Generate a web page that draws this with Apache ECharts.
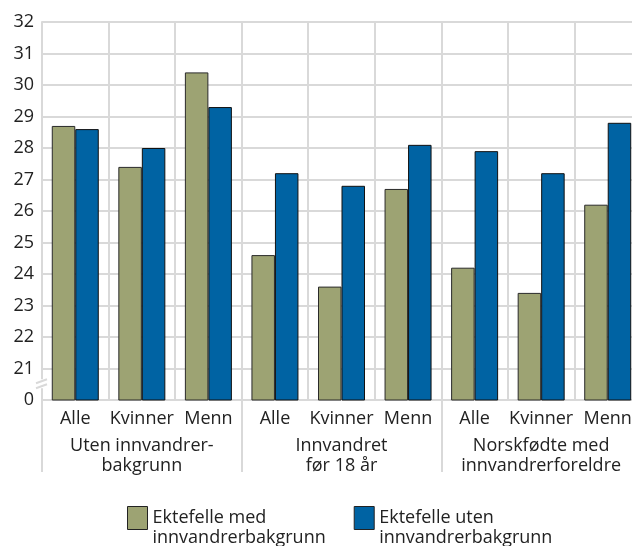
<!DOCTYPE html>
<html>
<head>
<meta charset="utf-8">
<script src="https://cdn.jsdelivr.net/npm/echarts@6/dist/echarts.min.js"></script>
<style>
  html, body { margin: 0; padding: 0; background: #fff; }
  #chart { width: 632px; height: 546px; }
</style>
</head>
<body>
<div id="chart"></div>
<script>
// data
const categories = ["Alle", "Kvinner", "Menn", "Alle", "Kvinner", "Menn", "Alle", "Kvinner", "Menn"];
const groups = ["Uten innvandrer-\nbakgrunn", "Innvandret\nfør 18 år", "Norskfødte med\ninnvandrerforeldre"];
const medBakgrunn = [28.7, 27.4, 30.4, 24.6, 23.6, 26.7, 24.2, 23.4, 26.2];
const utenBakgrunn = [28.6, 28.0, 29.3, 27.2, 26.8, 28.1, 27.9, 27.2, 28.8];
const seriesNames = ["Ektefelle med\ninnvandrerbakgrunn", "Ektefelle uten\ninnvandrerbakgrunn"];

const FONT = "Open Sans";
const FS = 18;
const GRID = "#d9d9d9";
const TXT = "#222";

const chart = echarts.init(document.getElementById("chart"));
const option = {
  animation: false,
  textStyle: { fontFamily: FONT },
  grid: { left: 42, width: 599, top: 22, height: 378, outerBoundsMode: "none" },
  legend: {
    left: 127,
    top: 488,
    padding: 0,
    itemWidth: 20,
    itemHeight: 23,
    itemGap: 28,
    itemTextGap: 5,
    icon: "rect",
    itemStyle: { borderColor: "#222", borderWidth: 1 },
    // leading empty line keeps the first text line level with the swatch
    formatter: name => "\n" + name,
    textStyle: { fontFamily: FONT, fontSize: FS, color: TXT, lineHeight: 20 },
    data: seriesNames
  },
  xAxis: [
    {
      type: "category",
      data: categories,
      axisLine: { lineStyle: { color: GRID, width: 2 } },
      axisTick: { show: false },
      splitLine: { show: true, interval: 0, lineStyle: { color: GRID, width: 2 } },
      axisLabel: { interval: 0, margin: 10, fontSize: FS, color: TXT, fontFamily: FONT }
    },
    {
      type: "category",
      position: "bottom",
      data: groups,
      axisLine: { show: false },
      axisTick: { show: true, interval: 0, length: 72, lineStyle: { color: GRID, width: 2 } },
      axisLabel: { interval: 0, margin: 36, fontSize: FS, lineHeight: 20, color: TXT, fontFamily: FONT }
    }
  ],
  yAxis: {
    type: "value",
    min: 20,
    max: 32,
    interval: 1,
    axisLine: { show: true, lineStyle: { color: GRID, width: 2 } },
    axisTick: { show: false },
    splitLine: { lineStyle: { color: GRID, width: 2 } },
    axisLabel: {
      fontSize: FS, color: TXT, fontFamily: FONT, margin: 8,
      formatter: v => (v === 20 ? "0" : String(v))
    }
  },
  series: [
    {
      name: seriesNames[0],
      type: "bar",
      data: medBakgrunn,
      barWidth: 23.5,
      barGap: "0%",
      itemStyle: { color: "#9da373", borderColor: "#2a2a2a", borderWidth: 1 }
    },
    {
      name: seriesNames[1],
      type: "bar",
      data: utenBakgrunn,
      barWidth: 23.5,
      barGap: "0%",
      itemStyle: { color: "#0063a3", borderColor: "#111", borderWidth: 1 }
    }
  ]
};
chart.setOption(option);

// axis break mark between 0 and 21
const p = chart.convertToPixel({ yAxisIndex: 0 }, 20.5);
const x0 = 42;
chart.setOption({
  graphic: [
    { type: "rect", shape: { x: x0 - 6, y: p - 5, width: 12, height: 9 }, style: { fill: "#fff" }, z: 100 },
    { type: "line", shape: { x1: x0 - 6, y1: p - 1, x2: x0 + 5, y2: p - 5 }, style: { stroke: GRID, lineWidth: 2 }, z: 101 },
    { type: "line", shape: { x1: x0 - 6, y1: p + 4, x2: x0 + 5, y2: p }, style: { stroke: GRID, lineWidth: 2 }, z: 101 }
  ]
});
</script>
</body>
</html>
